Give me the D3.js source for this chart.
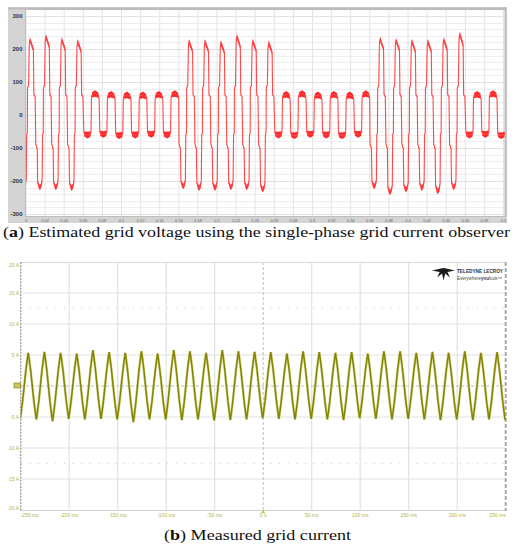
<!DOCTYPE html>
<html><head><meta charset="utf-8">
<script src="https://cdn.jsdelivr.net/npm/d3@7"></script>
<style>body{margin:0;background:#fff} svg{display:block}</style>
</head><body>
<script>
// ---------- DATA ----------
// (a) estimated grid voltage: one entry per 60 Hz cycle, k = -1 .. 29
const voltTickValues = [300, 200, 100, 0, -100, -200, -300];
const voltTimeTicks = [0,0.02,0.04,0.06,0.08,0.1,0.12,0.14,0.16,0.18,0.2,0.22,0.24,0.26,0.28,0.3,0.32,0.34,0.36,0.38,0.4,0.42,0.44,0.46,0.48,0.5];
const voltCycles = [-1,0,1,2,3,4,5,6,7,8,9,10,11,12,13,14,15,16,17,18,19,20,21,22,23,24,25,26,27,28,29];
const voltPosPeak = [220,228,238,228,222, 72,70,68,68,70,72, 222,222,218,238,224,218, 70,72,68,70,68,72, 230,226,222,222,228,245, 70,72];
const voltNegPeak = [-215,-220,-220,-222, -68,-66,-70,-68,-66,-68, -217,-222,-222,-220,-220,-227, -68,-70,-66,-68,-70,-66, -217,-235,-227,-222,-232,-220, -68,-66,-70];
const voltFreq = 60;          // Hz
const voltStart = 0.00157;    // s, start of cycle 0

// (b) measured grid current
const curYTicks = [20,15,10,5,0,-5,-10,-15,-20];
const curYLabels = ["20 A","15 A","10 A","5 A","0","-5 A","-10 A","-15 A","-20 A"];
const curXTicks = [-250,-200,-150,-100,-50,0,50,100,150,200,250];
const curXLabels = ["-250 ms","-200 ms","-150 ms","-100 ms","-50 ms","0 s","50 ms","100 ms","150 ms","200 ms","250 ms"];
const curFirstPeak = -242.2;  // ms
const curPeriod = 16.667;     // ms
const curPeaks = [5.35,5.5,5.35,5.24,5.77,5.45,5.35,5.6,5.24,5.77,5.6,5.35,5.77,5.6,5.5,
                  5.45,5.24,5.6,5.45,5.35,5.45,5.24,5.6,5.6,5.35,5.5,5.35,5.6,5.35,5.45];
const curTroughs = [-5.3,-5.4,-5.68,-5.3,-5.4,-5.3,-5.4,-5.84,-5.4,-5.4,-5.5,-5.4,-5.55,-5.5,-5.4,
                    -5.2,-5.3,-5.4,-5.3,-5.4,-5.5,-5.2,-5.3,-5.4,-5.3,-5.4,-5.5,-5.4,-5.5,-5.4,-5.5];
// half-cycle shape template (fraction of half period, normalised value)
const curShapeF = [0, 0.12, 0.3, 0.5, 0.7, 0.88, 1];
const curShapeV = [-1, -0.8, -0.46, 0, 0.46, 0.8, 1];

// ---------- DRAW ----------
const W = 515, H = 550;
const svg = d3.select("body").append("svg").attr("width", W).attr("height", H);

// ===== (a) =====
const ax = d3.scaleLinear().domain([0, 0.5]).range([26, 503.5]);
const ay = d3.scaleLinear().domain([-300, 300]).range([214, 16]);
const gA = svg.append("g");
gA.append("rect").attr("x", 8).attr("y", 7).attr("width", 499).attr("height", 216).attr("fill", "#d4d4d4");
gA.append("rect").attr("x", 26).attr("y", 10).attr("width", 479).attr("height", 206).attr("fill", "#ffffff");
// horizontal grid
gA.append("g").selectAll("line").data(d3.range(-300, 301, 20)).join("line")
  .attr("x1", 26).attr("x2", 505).attr("y1", d => Math.round(ay(d)) + 0.5).attr("y2", d => Math.round(ay(d)) + 0.5)
  .attr("stroke", d => d % 100 === 0 ? "#e2e2e2" : "#eeeeee").attr("stroke-width", 1);
// vertical grid
gA.append("g").selectAll("line").data(voltTimeTicks).join("line")
  .attr("x1", d => ax(d)).attr("x2", d => ax(d)).attr("y1", 10).attr("y2", 216)
  .attr("stroke", "#e4e4e4").attr("stroke-width", 1);
gA.append("rect").attr("x", 25.5).attr("y", 9.5).attr("width", 480).attr("height", 207)
  .attr("fill", "none").attr("stroke", "#bdbdbd").attr("stroke-width", 1);
gA.append("line").attr("x1", 8).attr("x2", 507).attr("y1", 8.5).attr("y2", 8.5).attr("stroke", "#bcbcbc").attr("stroke-width", 2);
gA.append("line").attr("x1", 505.5).attr("x2", 505.5).attr("y1", 8).attr("y2", 217).attr("stroke", "#bcbcbc").attr("stroke-width", 2);
// y tick labels
gA.append("g").selectAll("text").data(voltTickValues).join("text")
  .attr("x", 22.5).attr("y", d => ay(d) + 2).attr("text-anchor", "end")
  .attr("font-family", "Liberation Sans, Arial, sans-serif").attr("font-size", 6).attr("font-weight", "bold")
  .attr("fill", "#333").text(d => d);
// x tick labels
gA.append("g").selectAll("text").data(voltTimeTicks).join("text")
  .attr("x", d => ax(d)).attr("y", 221.5).attr("text-anchor", "middle")
  .attr("font-family", "Liberation Sans, Arial, sans-serif").attr("font-size", 4)
  .attr("fill", "#666").text(d => d3.format("~g")(d));

// waveform points
const T = 1 / voltFreq;
const vpts = [];
voltCycles.forEach((k, i) => {
  const s = voltStart + k * T;
  const A = voltPosPeak[i], B = voltNegPeak[i];
  let pos, neg;
  if (A > 150) {
    pos = [[0.0, 80, 0], [0.07, 92, 3], [0.11, A * 0.94, 4], [0.15, A, 8], [0.22, A * 0.96, 8], [0.37, A * 0.87, 7], [0.40, 62, 3], [0.48, 55, 2]];
  } else {
    pos = [[0.02, A - 20, 0], [0.06, A - 11, 8], [0.25, A - 7, 10], [0.45, A - 12, 8], [0.50, A - 22, 0]];
  }
  if (B < -150) {
    neg = [[0.52, -88, 2], [0.61, -102, 3], [0.64, B * 0.93, 4], [0.70, B * 0.97, 8], [0.78, B, 8], [0.88, B * 0.96, 8], [0.92, B * 0.9, 4], [0.945, -62, 3], [0.99, -52, 2]];
  } else {
    neg = [[0.54, B + 16, 0], [0.58, B + 10, 8], [0.78, B + 7, 10], [0.96, B + 11, 8], [0.99, B + 18, 0]];
  }
  pos.concat(neg).forEach(p => vpts.push({ t: s + p[0] * T, v: p[1], n: p[2] }));
});
svg.append("clipPath").attr("id", "clipA").append("rect").attr("x", 26).attr("y", 10).attr("width", 479).attr("height", 206);
const wA = gA.append("g").attr("clip-path", "url(#clipA)");
wA.append("path").datum(vpts)
  .attr("d", d3.area().x(d => ax(d.t)).y0(d => ay(d.v - d.n)).y1(d => ay(d.v + d.n)))
  .attr("fill", "#ff1010").attr("opacity", 0.9);
wA.append("path").datum(vpts)
  .attr("d", d3.line().x(d => ax(d.t)).y(d => ay(d.v)))
  .attr("fill", "none").attr("stroke", "#ff4848").attr("stroke-width", 1.1);

// caption (a)
const capA = svg.append("text").attr("x", 3).attr("y", 236.5)
  .attr("font-family", "Liberation Serif, 'DejaVu Serif', serif").attr("font-size", 15.5)
  .attr("textLength", 507).attr("lengthAdjust", "spacingAndGlyphs").attr("fill", "#111");
capA.append("tspan").text("(");
capA.append("tspan").attr("font-weight", "bold").text("a");
capA.append("tspan").text(") Estimated grid voltage using the single-phase grid current observer");

// ===== (b) =====
const bx = d3.scaleLinear().domain([-250, 250]).range([20.7, 505.7]);
const by = d3.scaleLinear().domain([-20, 20]).range([510, 262]);
const gB = svg.append("g");
// gridlines
gB.append("g").selectAll("line").data(curYTicks.filter(d => d !== 0 && Math.abs(d) !== 20)).join("line")
  .attr("x1", 21).attr("x2", 505).attr("y1", d => by(d)).attr("y2", d => by(d))
  .attr("stroke", "#e2e2e2").attr("stroke-width", 1.2);
gB.append("g").selectAll("line").data(curXTicks.filter(d => d !== 0 && Math.abs(d) !== 250)).join("line")
  .attr("x1", d => bx(d)).attr("x2", d => bx(d)).attr("y1", 262).attr("y2", 510)
  .attr("stroke", "#e2e2e2").attr("stroke-width", 1.2);
// dotted cursor levels
gB.append("g").selectAll("line").data([12.5, -12.5]).join("line")
  .attr("x1", 21).attr("x2", 505).attr("y1", d => by(d)).attr("y2", d => by(d))
  .attr("stroke", "#cfcfcf").attr("stroke-width", 1).attr("stroke-dasharray", "1,7.6");
// zero lines
gB.append("line").attr("x1", 21).attr("x2", 505).attr("y1", by(0)).attr("y2", by(0))
  .attr("stroke", "#bdbdbd").attr("stroke-width", 1).attr("stroke-dasharray", "3,2");
gB.append("line").attr("x1", bx(0)).attr("x2", bx(0)).attr("y1", 262).attr("y2", 510)
  .attr("stroke", "#bdbdbd").attr("stroke-width", 1).attr("stroke-dasharray", "3,2");
// frame
gB.append("line").attr("x1", 20.7).attr("x2", 505.7).attr("y1", 262.5).attr("y2", 262.5).attr("stroke", "#d8d8d8");
gB.append("line").attr("x1", 20.7).attr("x2", 505.7).attr("y1", 510.5).attr("y2", 510.5).attr("stroke", "#d0d0d0");
gB.append("line").attr("x1", bx(-250)).attr("x2", bx(-250)).attr("y1", 262).attr("y2", 511)
  .attr("stroke", "#9a9a9a").attr("stroke-width", 1.3).attr("stroke-dasharray", "2,1.2");
gB.append("line").attr("x1", bx(250)).attr("x2", bx(250)).attr("y1", 262).attr("y2", 511)
  .attr("stroke", "#a8a8a8").attr("stroke-width", 2).attr("stroke-dasharray", "4,2");

// labels
gB.append("g").selectAll("text").data(curYTicks).join("text")
  .attr("x", 19).attr("y", d => d === 20 ? by(d) + 4.5 : d === -20 ? by(d) : by(d) + 1.8).attr("text-anchor", "end")
  .attr("font-family", "Liberation Sans, Arial, sans-serif").attr("font-size", 5)
  .attr("fill", "#b4b440").text((d, i) => curYLabels[i]);
gB.append("g").selectAll("text").data(curXTicks).join("text")
  .attr("x", d => bx(d)).attr("y", 517)
  .attr("text-anchor", d => d === -250 ? "start" : d === 250 ? "end" : "middle")
  .attr("font-family", "Liberation Sans, Arial, sans-serif").attr("font-size", 5)
  .attr("fill", "#b4b440").text((d, i) => curXLabels[i]);
// channel marker & trigger marker
gB.append("rect").attr("x", 14).attr("y", by(0) - 3).attr("width", 6.5).attr("height", 5)
  .attr("fill", "#c8c860").attr("stroke", "#7a7a00").attr("stroke-width", 0.6);
gB.append("path").attr("d", `M${bx(0) - 2},513 L${bx(0) + 2},513 L${bx(0)},510 Z`).attr("fill", "#c8c040");

// current waveform
const cpts = [];
const ext = [];
ext.push({ t: curFirstPeak - curPeriod / 2, v: curTroughs[0] });
curPeaks.forEach((p, k) => {
  ext.push({ t: curFirstPeak + k * curPeriod, v: p });
  ext.push({ t: curFirstPeak + k * curPeriod + curPeriod / 2, v: curTroughs[k + 1] });
});
for (let i = 0; i < ext.length - 1; i++) {
  const a = ext[i], b = ext[i + 1];
  const rising = b.v > a.v;
  curShapeF.forEach((f, j) => {
    if (i > 0 && j === 0) return;
    const nv = rising ? curShapeV[j] : -curShapeV[j];
    const lo = rising ? a.v : b.v, hi = rising ? b.v : a.v;
    cpts.push({ t: a.t + f * (b.t - a.t), v: lo + (hi - lo) * (nv + 1) / 2 });
  });
}
svg.append("clipPath").attr("id", "clipB").append("rect").attr("x", 20.7).attr("y", 262).attr("width", 485).attr("height", 248);
const wB = gB.append("g").attr("clip-path", "url(#clipB)");
wB.append("path").datum(cpts).attr("d", d3.line().x(d => bx(d.t)).y(d => by(d.v)))
  .attr("fill", "none").attr("stroke", "#b0b030").attr("stroke-width", 2.6).attr("opacity", 0.5);
wB.append("path").datum(cpts).attr("d", d3.line().x(d => bx(d.t)).y(d => by(d.v)))
  .attr("fill", "none").attr("stroke", "#858500").attr("stroke-width", 1.5);

// Teledyne LeCroy logo
gB.append("path")
  .attr("d", "M432,270.5 L441,268.6 L443.6,268 L446.2,268.6 L455,270.5 L447.5,272 L450,277.5 L445.2,273.6 L443.6,280.5 L442,273.6 L437.2,277.5 L439.7,272 Z")
  .attr("fill", "#1a1a1a");
gB.append("text").attr("x", 457).attr("y", 273).attr("font-family", "Liberation Sans, Arial, sans-serif")
  .attr("font-size", 5).attr("font-weight", "bold").attr("fill", "#333")
  .attr("textLength", 46).attr("lengthAdjust", "spacingAndGlyphs").text("TELEDYNE LECROY");
const tag = gB.append("text").attr("x", 457).attr("y", 279.5).attr("font-family", "Liberation Sans, Arial, sans-serif")
  .attr("font-size", 4.5).attr("fill", "#444").attr("textLength", 45).attr("lengthAdjust", "spacingAndGlyphs");
tag.append("tspan").text("Everywhere");
tag.append("tspan").attr("font-weight", "bold").text("you");
tag.append("tspan").text("look™");

// caption (b)
const capB = svg.append("text").attr("x", 164).attr("y", 540)
  .attr("font-family", "Liberation Serif, 'DejaVu Serif', serif").attr("font-size", 15.5)
  .attr("textLength", 187).attr("lengthAdjust", "spacingAndGlyphs").attr("fill", "#111");
capB.append("tspan").text("(");
capB.append("tspan").attr("font-weight", "bold").text("b");
capB.append("tspan").text(") Measured grid current");
</script>
</body></html>
